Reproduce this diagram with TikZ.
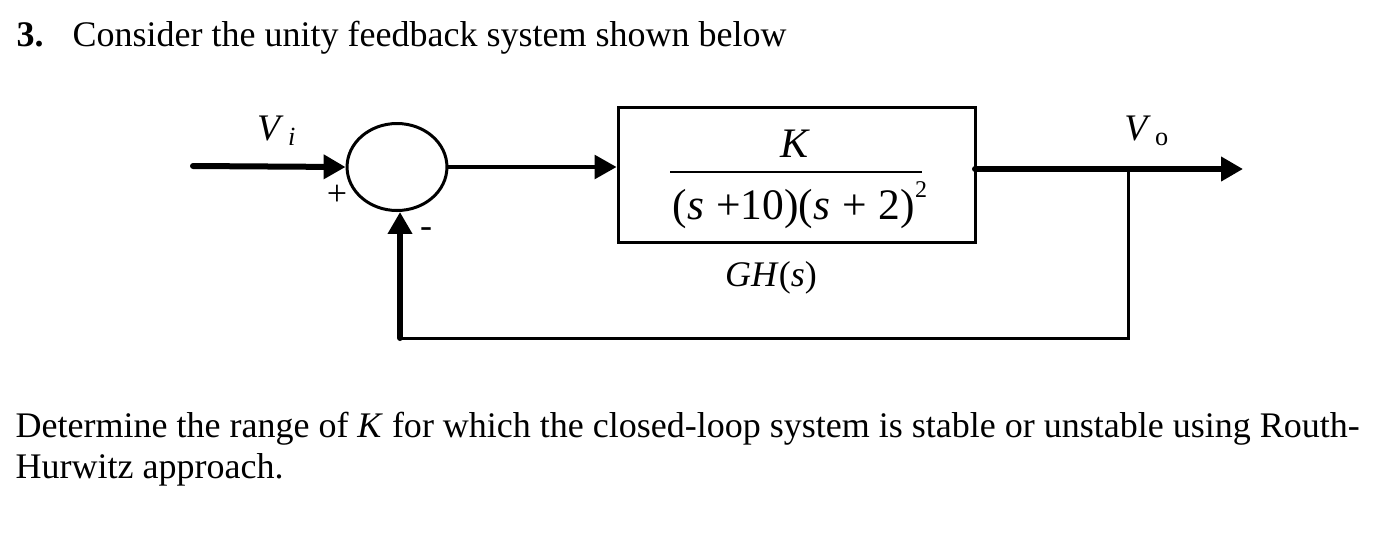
\documentclass[tikz,border=0pt]{standalone}
\usepackage{fontspec}
\setmainfont{Liberation Serif}
\usetikzlibrary{arrows.meta,shapes.geometric}
\begin{document}
\begin{tikzpicture}[x=0.33333pt,y=-0.33333pt,
  txt/.style={inner sep=0pt,font=\fontsize{12}{14}\selectfont},
  lbl/.style={inner sep=0pt,font=\fontsize{12.5}{14}\selectfont},
  thickline/.style={line width=2pt,line cap=round},
  midline/.style={line width=1.4pt},
  thinline/.style={line width=1pt},
  tip/.style={-{Triangle[length=7.3pt,width=7.8pt]}},
  sumnode/.style={ellipse,draw,line width=1pt,minimum width=33.3pt,minimum height=29pt,inner sep=0pt},
  blocknode/.style={rectangle,draw,line width=1pt,minimum width=119.3pt,minimum height=45.3pt,inner sep=0pt}]
\useasboundingbox (0,0) rectangle (1380,556);
% title
\node[txt,anchor=base west] (num) at (16,46) {\textbf{3.}};
\node[txt,anchor=base west] (title) at (72,46) {Consider the unity feedback system shown below};
% blocks
\node[sumnode] (sum) at (397,167) {};
\node[blocknode] (plant) at (797,175) {};
% fraction
\node[lbl,font=\fontsize{14}{16}\selectfont,anchor=base] (num K) at (795,157) {\textit{K}};
\coordinate (fl) at (670,172);
\coordinate (fr) at (922,172);
\draw[line width=0.8pt] (fl) -- (fr);
\node[lbl,font=\fontsize{14.5}{16}\selectfont,anchor=base] (den) at (800,219) {(\textit{s}\;+10)(\textit{s}\;+\;2)\raisebox{1.1ex}{\fontsize{8}{9}\selectfont 2}};
\node[lbl,font=\fontsize{12}{14}\selectfont,anchor=base] (gh) at (771,286) {\textit{GH}(\textit{s})};
% labels
\node[lbl,anchor=base] (vi) at (277,140) {\textit{V}\textsubscript{\,\textit{i}}};
\node[lbl,anchor=base] (vo) at (1147,140) {\textit{V}\textsubscript{\,o}};
\node[txt,anchor=center] (plus) at (337,195) {+};
\node[txt,anchor=center] (minus) at (426,233) {-};
% connectors
\coordinate (in) at (193,166);
\draw[thickline,tip] (in) -- (sum.west);
\draw[midline,tip] (sum.east) -- (sum.east -| plant.west);
\coordinate (pout) at (975,169);
\coordinate (br) at (1128,169);
\coordinate (out) at (1243,169);
\draw[thickline,tip] (pout) -- (out);
\coordinate (fbr) at (1128,338);
\coordinate (fbl) at (400,338);
\draw[thinline] (br) -- (fbr) -- (fbl);
\draw[thickline,tip] (fbl) -- (fbl |- sum.south);
% bottom text
\node[txt,anchor=base west] (q1) at (15,437) {Determine the range of \textit{K} for which the closed-loop system is stable or unstable using Routh-};
\node[txt,anchor=base west] (q2) at (15,478) {Hurwitz approach.};
\end{tikzpicture}
\end{document}
